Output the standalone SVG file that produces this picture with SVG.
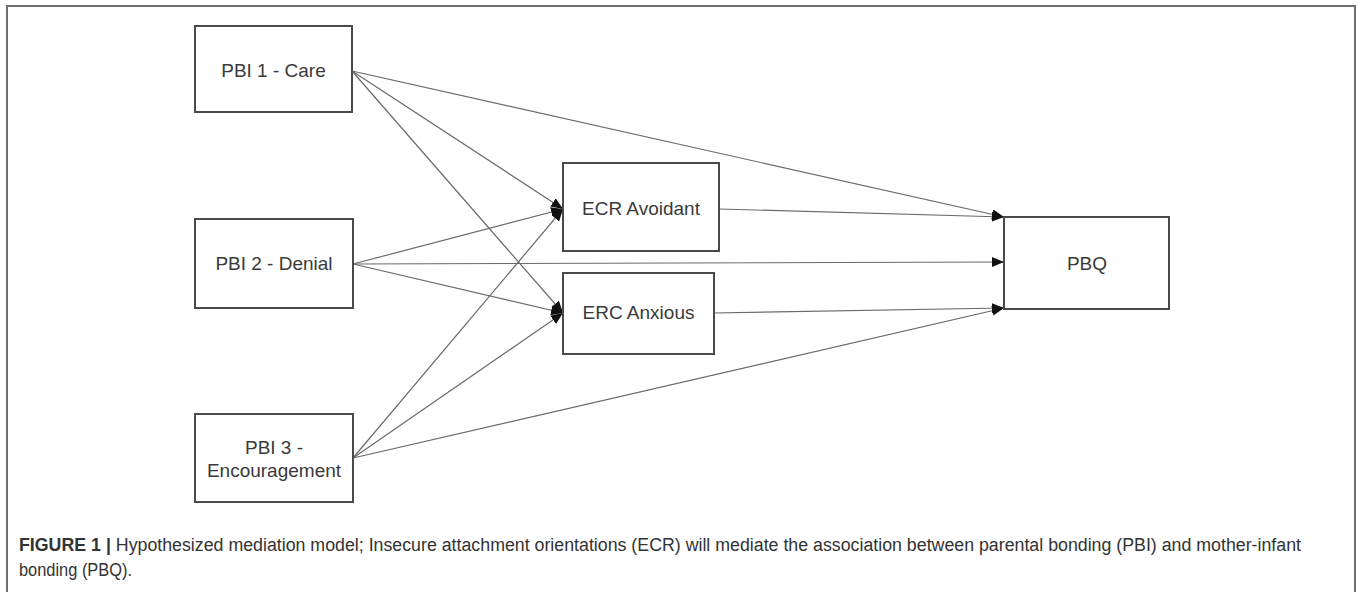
<svg xmlns="http://www.w3.org/2000/svg" width="1358" height="592" viewBox="0 0 1358 592">
  <style>
    .box { fill: #ffffff; stroke: #4a4a4a; stroke-width: 2; }
    .lbl { font-family: "Liberation Sans", Arial, sans-serif; font-size: 19px; fill: #3a3a3a; text-anchor: middle; }
    .edge { stroke: #6a6a6a; stroke-width: 1.2; fill: none; marker-end: url(#arrow); }
    .cap { font-family: "Liberation Sans", Arial, sans-serif; font-size: 18px; fill: #333333; }
  </style>
  <defs>
    <marker id="arrow" markerUnits="userSpaceOnUse" markerWidth="14" markerHeight="12" refX="12" refY="5" orient="auto">
      <path d="M0,0 L12,5 L0,10 Z" fill="#111111"/>
    </marker>
  </defs>
  <rect x="0" y="0" width="1358" height="592" fill="#ffffff"/>
  <!-- figure frame, open at the bottom -->
  <path d="M7,600 L7,6 L1355,6 L1355,600" fill="none" stroke="#6e6e6e" stroke-width="2"/>

  <g id="connectors">
    <line class="edge" x1="352" y1="71" x2="1004" y2="217"/>
    <line class="edge" x1="352" y1="71" x2="563" y2="209"/>
    <line class="edge" x1="352" y1="71" x2="563" y2="313"/>
    <line class="edge" x1="353" y1="264" x2="563" y2="209"/>
    <line class="edge" x1="353" y1="264" x2="1004" y2="262"/>
    <line class="edge" x1="353" y1="264" x2="563" y2="313"/>
    <line class="edge" x1="353" y1="458" x2="563" y2="209"/>
    <line class="edge" x1="353" y1="458" x2="563" y2="313"/>
    <line class="edge" x1="353" y1="458" x2="1004" y2="308"/>
    <line class="edge" x1="719" y1="209" x2="1004" y2="217"/>
    <line class="edge" x1="714" y1="313" x2="1004" y2="308"/>
  </g>

  <g id="pbi1">
    <rect class="box" x="195" y="26" width="157" height="86"/>
    <text class="lbl" x="273.5" y="77">PBI 1 - Care</text>
  </g>
  <g id="pbi2">
    <rect class="box" x="195" y="219" width="158" height="89"/>
    <text class="lbl" x="274" y="270">PBI 2 - Denial</text>
  </g>
  <g id="pbi3">
    <rect class="box" x="195" y="414" width="158" height="88"/>
    <text class="lbl" x="274" y="454">PBI 3 -</text>
    <text class="lbl" x="274" y="477">Encouragement</text>
  </g>
  <g id="ecr-avoidant">
    <rect class="box" x="563" y="163" width="156" height="88"/>
    <text class="lbl" x="641" y="215">ECR Avoidant</text>
  </g>
  <g id="erc-anxious">
    <rect class="box" x="563" y="273" width="151" height="81"/>
    <text class="lbl" x="638.5" y="319">ERC Anxious</text>
  </g>
  <g id="pbq">
    <rect class="box" x="1004" y="217" width="165" height="92"/>
    <text class="lbl" x="1087" y="270">PBQ</text>
  </g>

  <g id="caption">
    <text class="cap" x="19" y="551" textLength="1282" lengthAdjust="spacingAndGlyphs"><tspan font-weight="bold">FIGURE 1 |</tspan> Hypothesized mediation model; Insecure attachment orientations (ECR) will mediate the association between parental bonding (PBI) and mother-infant</text>
    <text class="cap" x="19" y="576" textLength="113" lengthAdjust="spacingAndGlyphs">bonding (PBQ).</text>
  </g>
</svg>
